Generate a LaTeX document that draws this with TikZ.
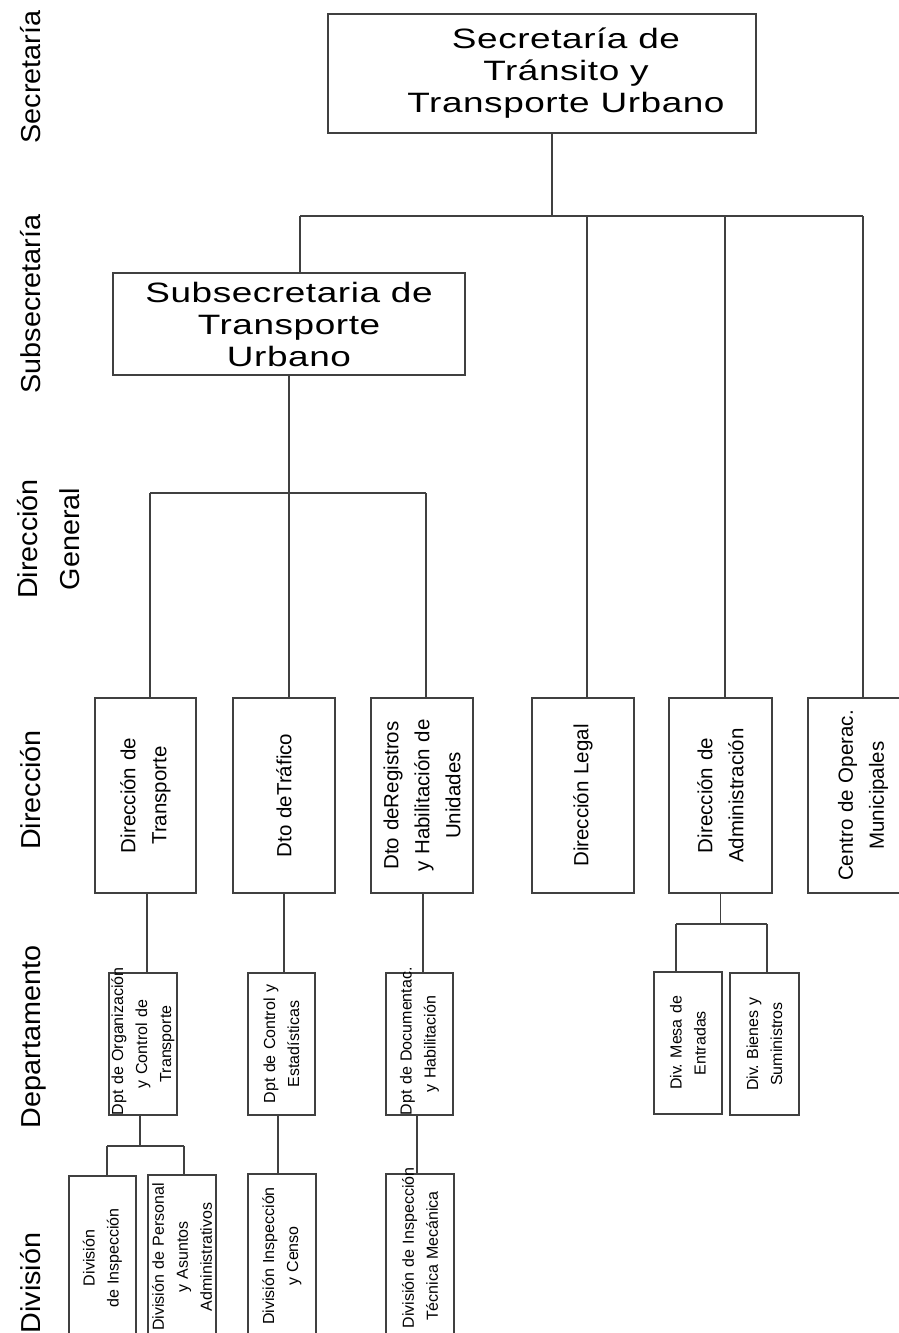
\documentclass[tikz,border=0pt]{standalone}
\usepackage{fontspec}
\setmainfont{Liberation Sans}
\newfontfamily\bigfont[FakeStretch=1.32,LetterSpace=2]{Liberation Sans}
\newfontfamily\labfont[FakeStretch=1.05]{Liberation Sans}
\frenchspacing
\tikzset{
  ln/.style={draw=black!75, line width=0.6pt},
  bigbox/.style={draw=black!75, line width=0.6pt, align=center, inner sep=0pt,
    font=\bigfont\fontsize{14pt}{16pt}\selectfont},
  rbox/.style 2 args={draw=black!75, line width=0.6pt, rotate=90, inner sep=0pt,
    align=center, text width=#2, minimum height=#1},
  med/.style={font=\fontsize{10.25pt}{15.5pt}\selectfont},
  sml/.style={font=\fontsize{8pt}{12pt}\selectfont},
  lab/.style={rotate=90, anchor=base, inner sep=0pt, align=center,
    font=\labfont\fontsize{13.7pt}{21pt}\selectfont}
}
\begin{document}
\begin{tikzpicture}[x=0.5pt,y=-0.5pt]
\fill[white] (0,0) rectangle (899,1333);
\useasboundingbox (0,0) rectangle (899,1333);

% row labels
\node[lab] (l1) at (40,77) {Secretaría};
\node[lab] (l2) at (40,304) {Subsecretaría};
\node[lab, anchor=center] (l3) at (48.5,539) {Dirección\\General};
\node[lab] (l4) at (40,790) {Dirección};
\node[lab] (l5) at (40,1037) {Departamento};
\node[lab] (l6) at (40,1283) {División};

% top boxes
\node[bigbox, minimum width=214pt, minimum height=59.5pt] (sec) at (542,73.5)
  {\hspace*{24pt}Secretaría de\\\hspace*{24pt}Tránsito y\\\hspace*{24pt}Transporte Urbano};
\node[bigbox, minimum width=176pt, minimum height=51pt] (sub) at (289,324)
  {Subsecretaria de\\Transporte\\Urbano};

% direccion row
\node[rbox={50.5pt}{97.5pt}, med] (dt) at (145.5,795.5) {Dirección de\\Transporte};
\node[rbox={51pt}{97.5pt}, med] (tra) at (284,795.5) {Dto deTráfico};
\node[rbox={51pt}{97.5pt}, med] (reg) at (422,795.5) {Dto deRegistros\\y Habilitación de\\Unidades};
\node[rbox={51pt}{97.5pt}, med] (leg) at (583,795.5) {Dirección Legal};
\node[rbox={51.5pt}{97.5pt}, med] (adm) at (720.5,795.5) {Dirección de\\Administración};
\node[rbox={55pt}{97.5pt}, med] (cen) at (863,795.5) {Centro de Operac.\\Municipales};

% departamento row
\node[rbox={34pt}{71pt}, sml] (dpo) at (143,1044) {\mbox{Dpt de Organización}\\y Control de\\Transporte};
\node[rbox={33.5pt}{71pt}, sml] (dpc) at (281.5,1044) {Dpt de Control y\\Estadísticas};
\node[rbox={33.5pt}{71pt}, sml] (dpd) at (419.5,1044) {\mbox{Dpt de Documentac.}\\y Habilitación};
\node[rbox={34pt}{71pt}, sml] (mes) at (688,1043) {Div. Mesa de\\Entradas};
\node[rbox={34.5pt}{71pt}, sml] (bie) at (764.5,1044) {Div. Bienes y\\Suministros};

% division row
\node[rbox={33.5pt}{82pt}, sml] (di1) at (102.5,1258) {División\\de Inspección};
\node[rbox={34pt}{82pt}, sml] (di2) at (182,1257) {División de Personal\\y Asuntos\\Administrativos};
\node[rbox={34pt}{82pt}, sml] (di3) at (282,1256) {División Inspección\\y Censo};
\node[rbox={34pt}{82pt}, sml] (di4) at (420,1256) {\makebox[\linewidth][c]{\hspace*{8pt}División de Inspección}\\Técnica Mecánica};

% bar coordinates
\coordinate (barL) at (300,216);
\coordinate (barR) at (863,216);
\coordinate (b2L) at (150,493);
\coordinate (b2R) at (426,493);
\coordinate (b3L) at (107,1146);
\coordinate (b3R) at (184,1146);
\coordinate (b4L) at (676,924);
\coordinate (b4R) at (767,924);

% connectors
\draw[ln] ([xshift=5pt]sec.south) -- ([xshift=5pt]sec.south |- barL);
\draw[ln] (barL) -- (barR);
\draw[ln] (barL) -- (barL |- sub.north);
\draw[ln] ([xshift=2pt]leg.east) -- ([xshift=2pt]leg.east |- barL);
\draw[ln] ([xshift=2.25pt]adm.east) -- ([xshift=2.25pt]adm.east |- barL);
\draw[ln] (cen.east) -- (cen.east |- barR);

\draw[ln] (sub.south) -- (sub.south |- tra.east);
\draw[ln] (b2L) -- (b2R);
\draw[ln] (b2L) -- (b2L |- dt.east);
\draw[ln] (b2R) -- (b2R |- reg.east);

\draw[ln] ([xshift=0.75pt]dt.west) -- ([xshift=0.75pt]dt.west |- dpo.east);
\draw[ln] (tra.west) -- (tra.west |- dpc.east);
\draw[ln] ([xshift=0.5pt]reg.west) -- ([xshift=0.5pt]reg.west |- dpd.east);

\draw[ln] ([xshift=-1.5pt]dpo.west) -- ([xshift=-1.5pt]dpo.west |- b3L);
\draw[ln] (b3L) -- (b3R);
\draw[ln] (b3L) -- (b3L |- di1.east);
\draw[ln] (b3R) -- (b3R |- di2.east);
\draw[ln] ([xshift=-1.75pt]dpc.west) -- ([xshift=-1.75pt]dpc.west |- di3.east);
\draw[ln] ([xshift=-1.25pt]dpd.west) -- ([xshift=-1.25pt]dpd.west |- di4.east);

\draw[ln] (adm.west) -- (adm.west |- b4L);
\draw[ln] (b4L) -- (b4R);
\draw[ln] (b4L) -- (b4L |- mes.east);
\draw[ln] (b4R) -- (b4R |- bie.east);
\end{tikzpicture}
\end{document}
